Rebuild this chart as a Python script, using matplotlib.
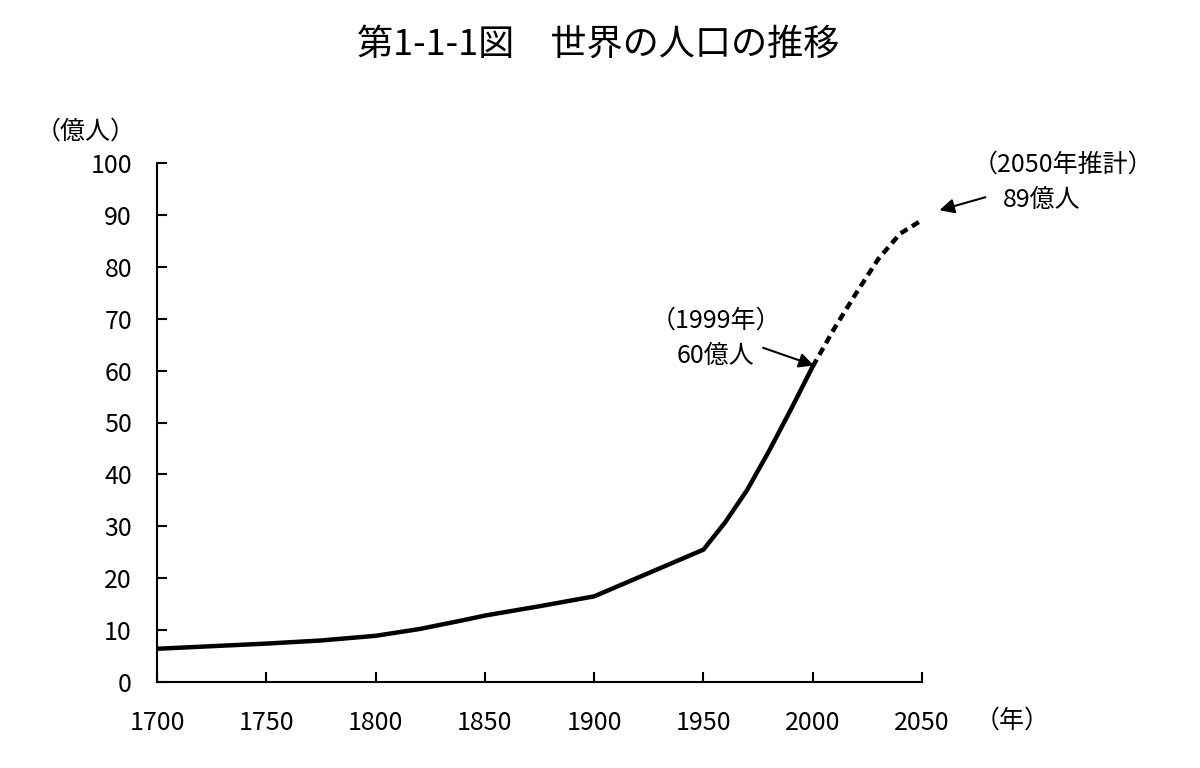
import matplotlib
matplotlib.use('Agg')
import matplotlib.pyplot as plt

plt.rcParams['font.family'] = ['Noto Sans CJK JP', 'DejaVu Sans']

# World population (100 million people)
years = [1700, 1725, 1750, 1775, 1800, 1820, 1840, 1850, 1875, 1900, 1925,
         1950, 1960, 1970, 1980, 1990, 2000]
population = [6.4, 6.9, 7.4, 8.0, 8.9, 10.2, 11.9, 12.8, 14.6, 16.5, 21.0,
              25.5, 30.8, 37.0, 44.5, 52.5, 60.8]

# Projection up to 2050
proj_years = [2000, 2010, 2020, 2030, 2040, 2050]
proj_population = [60.8, 68.2, 75.0, 81.5, 86.4, 89.0]

x_ticks = [1700, 1750, 1800, 1850, 1900, 1950, 2000, 2050]
y_ticks = list(range(0, 101, 10))

fig = plt.figure(figsize=(12, 7.68), dpi=100)
ax = fig.add_axes([157 / 1200, 1 - 682 / 768, (922 - 157) / 1200, (682 - 163) / 768])

ax.plot(years, population, color='black', lw=3.2, solid_joinstyle='round')
ax.plot(proj_years, proj_population, color='black', lw=3.2,
        linestyle=(0, (1.8, 1.2)), dash_capstyle='butt')

ax.set_xlim(1700, 2050)
ax.set_ylim(0, 100)
ax.set_xticks(x_ticks)
ax.set_yticks(y_ticks)
ax.tick_params(axis='both', direction='in', length=7, width=1.5, labelsize=18)
ax.tick_params(axis='x', pad=20)
ax.tick_params(axis='y', pad=18)
for s in ['top', 'right']:
    ax.spines[s].set_visible(False)
for s in ['left', 'bottom']:
    ax.spines[s].set_linewidth(1.5)

fig.text(598 / 1200, 1 - 45 / 768, '第1-1-1図　世界の人口の推移', ha='center', va='center', fontsize=26)
fig.text(86 / 1200, 1 - 132 / 768, '（億人）', ha='center', va='center', fontsize=18)
fig.text(1012 / 1200, 1 - 721 / 768, '（年）', ha='center', va='center', fontsize=18)

# 1999 annotation
ax.text(1955.5, 69.6, '（1999年）', ha='center', va='center', fontsize=18)
ax.text(1955.5, 62.9, '60億人', ha='center', va='center', fontsize=18)
ax.annotate('', xy=(2000.5, 61.0), xytext=(1977.3, 64.4),
            arrowprops=dict(arrowstyle='-|>', color='black', lw=1.5,
                            mutation_scale=22, shrinkA=0, shrinkB=0))

# 2050 projection annotation
ax.text(2073, 99.6, '（2050年推計）', ha='left', va='center', fontsize=18, clip_on=False)
ax.text(2087, 92.9, '89億人', ha='left', va='center', fontsize=18, clip_on=False)
ax.annotate('', xy=(2058, 90.9), xytext=(2079, 93.4), annotation_clip=False,
            arrowprops=dict(arrowstyle='-|>', color='black', lw=1.5,
                            mutation_scale=22, shrinkA=0, shrinkB=0))

fig.savefig('out.png', dpi=100)
